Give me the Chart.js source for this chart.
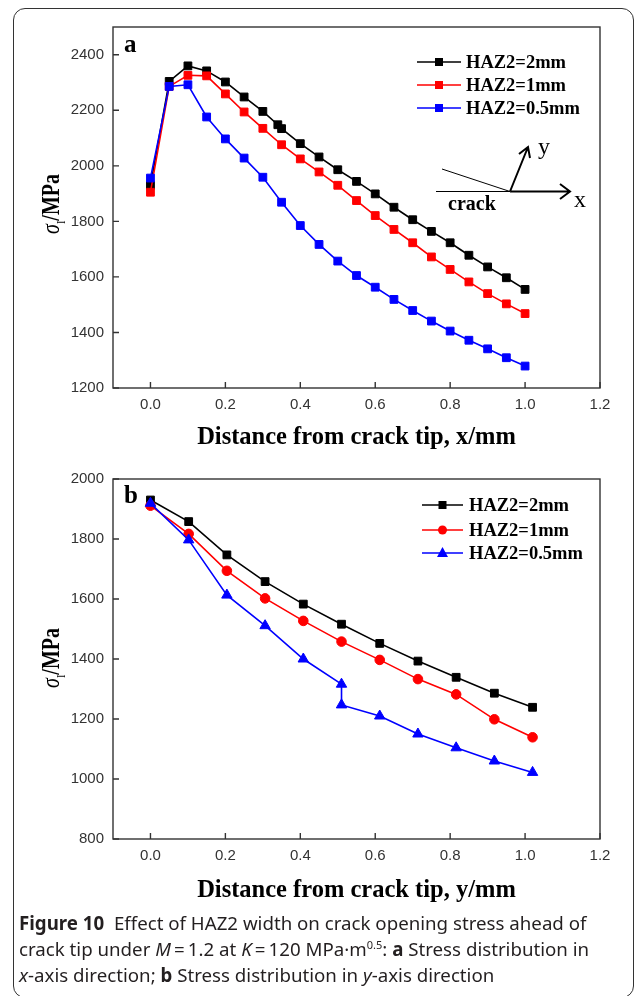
<!DOCTYPE html>
<html>
<head>
<meta charset="utf-8">
<script src="https://cdn.jsdelivr.net/npm/chart.js@4.4.1/dist/chart.umd.min.js"></script>
<style>
  html, body { margin: 0; padding: 0; background: #fff; }
  body { width: 637px; height: 996px; position: relative; overflow: hidden; }
  .frame { position: absolute; left: 13px; top: 8px; width: 621px; height: 990px; border: 1px solid #333; border-radius: 12px; box-sizing: border-box; }
  canvas { position: absolute; left: 0; }
  #chartA { top: 0; }
  #chartB { top: 460px; }
  .ytitle { position: absolute; font: bold 25px "Liberation Serif", serif; color: #000; white-space: nowrap; transform: translate(-50%, -50%) rotate(-90deg) scaleX(0.8); }
  .ytitle i { font-weight: normal; }
  .ytitle sub { font-size: 13px; font-weight: normal; }
  .caption { position: absolute; left: 19px; top: 910px; font: 18.7px "Noto Sans", sans-serif; line-height: 26px; color: #231f20; white-space: nowrap; }
  .caption sup { font-size: 11px; line-height: 0; }
</style>
</head>
<body>
<div class="frame"></div>
<canvas id="chartA" width="637" height="460"></canvas>
<canvas id="chartB" width="637" height="451"></canvas>
<div class="ytitle" style="left:53px; top:204px;"><i>σ</i><sub>I</sub>/MPa</div>
<div class="ytitle" style="left:53px; top:658px;"><i>σ</i><sub>I</sub>/MPa</div>
<div class="caption"><b>Figure 10</b>&nbsp; Effect of HAZ2 width on crack opening stress ahead of<br>crack tip under <i>M</i>&thinsp;=&thinsp;1.2 at <i>K</i>&thinsp;=&thinsp;120 MPa·m<sup>0.5</sup>: <b>a</b> Stress distribution in<br><i>x</i>-axis direction; <b>b</b> Stress distribution in <i>y</i>-axis direction</div>
<script>
// (a) stress along x
const xA = [0, 0.05, 0.1, 0.15, 0.2, 0.25, 0.3, 0.35, 0.4, 0.45, 0.5, 0.55, 0.6, 0.65, 0.7, 0.75, 0.8, 0.85, 0.9, 0.95, 1.0];
const xA2mm = [0, 0.05, 0.1, 0.15, 0.2, 0.25, 0.3, 0.34, 0.35, 0.4, 0.45, 0.5, 0.55, 0.6, 0.65, 0.7, 0.75, 0.8, 0.85, 0.9, 0.95, 1.0];
const a2mm = [1930, 2304, 2360, 2342, 2302, 2248, 2196, 2148, 2134, 2080, 2032, 1986, 1944, 1899, 1851, 1806, 1764, 1723, 1678, 1636, 1597, 1555];
const a1mm = [1905, 2286, 2326, 2324, 2259, 2194, 2135, 2076, 2025, 1978, 1930, 1875, 1821, 1771, 1723, 1672, 1627, 1582, 1540, 1503, 1468];
const a05mm = [1956, 2286, 2292, 2176, 2097, 2028, 1959, 1869, 1785, 1717, 1657, 1605, 1563, 1519, 1479, 1441, 1405, 1372, 1341, 1309, 1279];

// (b) stress along y
const xB = [0, 0.102, 0.204, 0.306, 0.408, 0.51, 0.612, 0.714, 0.816, 0.918, 1.02];
const xB05 = [0, 0.102, 0.204, 0.306, 0.408, 0.51, 0.51, 0.612, 0.714, 0.816, 0.918, 1.02];
const b2mm = [1930, 1858, 1747, 1658, 1583, 1516, 1452, 1393, 1339, 1286, 1239];
const b1mm = [1911, 1817, 1694, 1602, 1527, 1458, 1397, 1333, 1282, 1199, 1139];
const b05mm = [1919, 1797, 1613, 1511, 1400, 1316, 1247, 1210, 1150, 1104, 1060, 1022];

const labels = ['HAZ2=2mm', 'HAZ2=1mm', 'HAZ2=0.5mm'];
const xTicks = [0, 0.2, 0.4, 0.6, 0.8, 1.0, 1.2];
const yTicksA = [1200, 1400, 1600, 1800, 2000, 2200, 2400];
const yTicksB = [800, 1000, 1200, 1400, 1600, 1800, 2000];

const pts = (xs, ys) => xs.map((x, i) => ({ x, y: ys[i] }));
const tickFont = { family: '"Liberation Sans", Arial, sans-serif', size: 15 };
const serif = '"Liberation Serif", serif';

function series(label, xs, ys, color, shape, radius, order) {
    return {
        label, data: pts(xs, ys), order,
        borderColor: color, backgroundColor: color,
        borderWidth: 1.6, pointStyle: shape, pointRadius: radius,
        pointBorderWidth: 1, pointBorderColor: color, pointBackgroundColor: color,
        tension: 0
    };
}

// box + inward ticks
const frameBox = {
    id: 'frameBox',
    afterDraw(chart) {
        const { ctx, chartArea: a, scales } = chart;
        ctx.save();
        ctx.strokeStyle = '#333';
        ctx.lineWidth = 1.4;
        ctx.strokeRect(a.left, a.top, a.right - a.left, a.bottom - a.top);
        ctx.beginPath();
        scales.x.ticks.forEach(t => {
            const px = scales.x.getPixelForValue(t.value);
            ctx.moveTo(px, a.bottom); ctx.lineTo(px, a.bottom - 6);
        });
        scales.y.ticks.forEach(t => {
            const py = scales.y.getPixelForValue(t.value);
            ctx.moveTo(a.left, py); ctx.lineTo(a.left + 6, py);
        });
        ctx.stroke();
        ctx.restore();
    }
};

// panel letter + line/marker legend
const legendBox = {
    id: 'legendBox',
    afterDraw(chart, args, opts) {
        const { ctx } = chart;
        ctx.save();
        ctx.fillStyle = '#000';
        ctx.font = 'bold 25px ' + serif;
        ctx.textBaseline = 'middle';
        ctx.fillText(opts.letter, opts.letterX, opts.letterY);
        ctx.font = 'bold 18.5px ' + serif;
        opts.rows.forEach((y, i) => {
            const ds = chart.data.datasets.find(d => d.label === labels[i]);
            ctx.strokeStyle = ds.borderColor;
            ctx.lineWidth = 1.6;
            ctx.beginPath();
            ctx.moveTo(opts.x0, y); ctx.lineTo(opts.x1, y);
            ctx.stroke();
            const cx = (opts.x0 + opts.x1) / 2;
            ctx.fillStyle = ds.borderColor;
            ctx.beginPath();
            if (ds.pointStyle === 'circle') ctx.arc(cx, y, 4.5, 0, Math.PI * 2);
            else if (ds.pointStyle === 'triangle') { ctx.moveTo(cx, y - 6); ctx.lineTo(cx + 5.5, y + 4); ctx.lineTo(cx - 5.5, y + 4); ctx.closePath(); }
            else ctx.rect(cx - 4, y - 4, 8, 8);
            ctx.fill();
            ctx.fillStyle = '#000';
            ctx.fillText(labels[i], opts.tx, y + 1);
        });
        ctx.restore();
    }
};

// crack sketch in panel a
const crackSketch = {
    id: 'crackSketch',
    afterDraw(chart) {
        const { ctx } = chart;
        ctx.save();
        ctx.strokeStyle = '#000';
        ctx.lineWidth = 1;
        ctx.beginPath();
        ctx.moveTo(436, 191.5); ctx.lineTo(510, 191.5);
        ctx.moveTo(442, 169); ctx.lineTo(510, 191.5);
        ctx.stroke();
        ctx.lineWidth = 2;
        ctx.beginPath();
        ctx.moveTo(510, 191.5); ctx.lineTo(570, 191.5);
        ctx.moveTo(560, 184); ctx.lineTo(570, 191.5); ctx.lineTo(560, 199);
        ctx.moveTo(510, 191.5); ctx.lineTo(528, 147);
        ctx.moveTo(519, 154); ctx.lineTo(528, 147); ctx.lineTo(530, 158);
        ctx.stroke();
        ctx.fillStyle = '#000';
        ctx.textBaseline = 'middle';
        ctx.font = '24px ' + serif;
        ctx.fillText('y', 538, 148);
        ctx.fillText('x', 574, 201);
        ctx.font = 'bold 20px ' + serif;
        ctx.fillText('crack', 448, 205);
        ctx.restore();
    }
};

function axisX(title, titlePad) {
    return {
        type: 'linear', min: -0.1, max: 1.2,
        afterBuildTicks: s => { s.ticks = xTicks.map(v => ({ value: v })); },
        afterFit: s => { s.height = 72; },
        grid: { display: false, drawTicks: false },
        border: { display: false },
        ticks: { padding: 8, font: tickFont, color: '#333', callback: v => v.toFixed(1) },
        title: { display: true, text: title, color: '#000', padding: { top: 0, bottom: titlePad },
                 font: { family: 'Liberation Serif', weight: 'bold', size: 24.5 } }
    };
}

function axisY(min, max, ticks) {
    return {
        type: 'linear', min, max,
        afterBuildTicks: s => { s.ticks = ticks.map(v => ({ value: v })); },
        afterFit: s => { s.width = 113; },
        grid: { display: false, drawTicks: false },
        border: { display: false },
        ticks: { padding: 9, font: tickFont, color: '#333', callback: v => String(v) }
    };
}

new Chart(document.getElementById('chartA'), {
    type: 'line',
    data: {
        datasets: [
            series(labels[0], xA2mm, a2mm, '#000000', 'rect', 5.5, 2),
            series(labels[1], xA, a1mm, '#ff0000', 'rect', 5.5, 1),
            series(labels[2], xA, a05mm, '#0000ff', 'rect', 5.5, 0)
        ]
    },
    options: {
        responsive: false, animation: false,
        layout: { padding: { left: 0, top: 27, right: 37, bottom: 0 } },
        plugins: {
            legend: { display: false }, tooltip: { enabled: false },
            legendBox: { letter: 'a', letterX: 124, letterY: 46, x0: 417, x1: 461, tx: 466, rows: [62, 85, 108] }
        },
        scales: { x: axisX('Distance from crack tip, x/mm', 8), y: axisY(1200, 2500, yTicksA) }
    },
    plugins: [frameBox, legendBox, crackSketch]
});

new Chart(document.getElementById('chartB'), {
    type: 'line',
    data: {
        datasets: [
            series(labels[0], xB, b2mm, '#000000', 'rect', 5.5, 2),
            series(labels[1], xB, b1mm, '#ff0000', 'circle', 4.8, 1),
            series(labels[2], xB05, b05mm, '#0000ff', 'triangle', 6, 0)
        ]
    },
    options: {
        responsive: false, animation: false,
        layout: { padding: { left: 0, top: 19, right: 37, bottom: 0 } },
        plugins: {
            legend: { display: false }, tooltip: { enabled: false },
            legendBox: { letter: 'b', letterX: 124, letterY: 37, x0: 422, x1: 463, tx: 469, rows: [45, 70, 93] }
        },
        scales: { x: axisX('Distance from crack tip, y/mm', 6), y: axisY(800, 2000, yTicksB) }
    },
    plugins: [frameBox, legendBox]
});
</script>
</body>
</html>
